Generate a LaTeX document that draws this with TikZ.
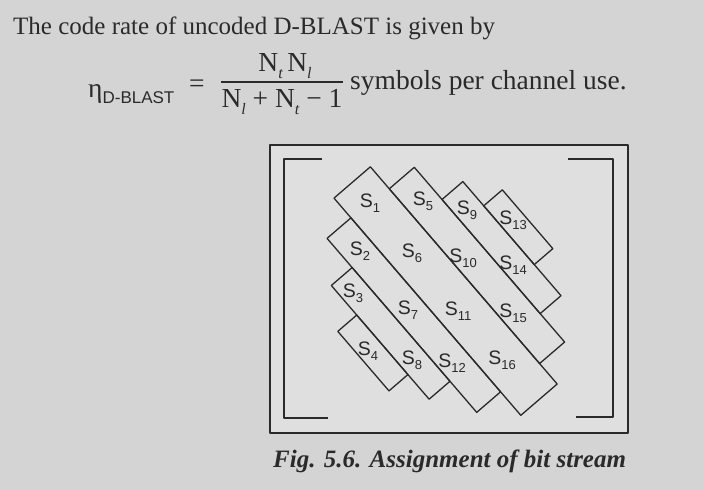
\documentclass[tikz,border=0pt]{standalone}
\usepackage{fontspec}
\setmainfont{Liberation Serif}
\setsansfont{Liberation Sans}
\definecolor{paper}{RGB}{212,212,212}
\definecolor{sheet}{RGB}{223,223,223}
\definecolor{ink}{RGB}{42,42,42}
\newcommand{\slab}[1]{S\raisebox{-0.28em}{\fontsize{13}{13}\selectfont #1}}
\newcommand{\Nsub}[1]{N\raisebox{-0.22em}{\fontsize{16}{16}\selectfont\itshape #1}}

\begin{document}
\begin{tikzpicture}[x=1pt, y=-1pt, line join=round,
  every node/.style={text=ink, inner sep=0pt},
  txt/.style={anchor=base west, font=\fontsize{25}{30}\selectfont},
  eqn/.style={anchor=base west, font=\fontsize{27.5}{32}\selectfont},
  strip/.style={draw=ink, line width=1.3pt}]
  \fill[paper] (0,0) rectangle (703,489);
  \useasboundingbox (0,0) rectangle (703,489);
  % text above the figure
  \node[txt] (intro) at (13,35) {The code rate of uncoded D-BLAST is given by};
  \node[eqn] (eta) at (88,98) {η\raisebox{-0.2em}{\fontsize{17}{18}\sffamily D-BLAST}};
  \node[eqn] (eq) at (189,93) {=};
  \node[eqn, anchor=base] (num) at (285,72) {\Nsub{t}\,\Nsub{l}};
  \node[eqn, anchor=base] (den) at (282,108) {\Nsub{l} + \Nsub{t} − 1};
  \draw[ink, line width=1.3pt] (den.west |- 0,82) -- (den.east |- 0,82);
  \node[eqn] (use) at (350,90) {symbols per channel use.};
  % frame and brackets
  \draw[ink, line width=1.3pt, fill=sheet] (270,145) rectangle (628,433);
  \draw[ink, line width=1.6pt] (322,159) -- (284,159) -- (284,418) -- (328,418);
  \draw[ink, line width=1.6pt] (568,159) -- (613,159) -- (613,417) -- (576,417);
  % diagonal layers
  \begin{scope}[x={(0.6521pt,-0.7581pt)}, y={(0.7581pt,0.6521pt)}]
    \foreach \ua/\ub/\va/\vb in {368/654.5/124/172, 397/627.5/172/205,
        439.5/590/205/232.5, 471.5/549/232.5/257, 394/623.5/92.5/124,
        432.5/582.5/65/92.5, 471.5/550/40/65}
      \draw[strip] (\ua,\va) -- (\ub,\va) -- (\ub,\vb) -- (\ua,\vb) -- cycle;
  \end{scope}
  \foreach \k/\px/\py in {1/370/203, 5/423/201, 9/467/210, 13/513/220,
      2/360/251, 6/412/253, 10/463/258, 14/513/265,
      3/353/293, 7/408/310, 11/458/311, 15/513/313,
      4/368/351, 8/412/360, 12/452/363, 16/502/360}
    \node[font=\fontsize{19.5}{20}\sffamily] (s\k) at (\px,\py) {\slab{\k}};
  \node[txt, font=\fontsize{25}{30}\bfseries\itshape] (cap) at (273,467) {Fig. 5.6. Assignment of bit stream};
\end{tikzpicture}
\end{document}
